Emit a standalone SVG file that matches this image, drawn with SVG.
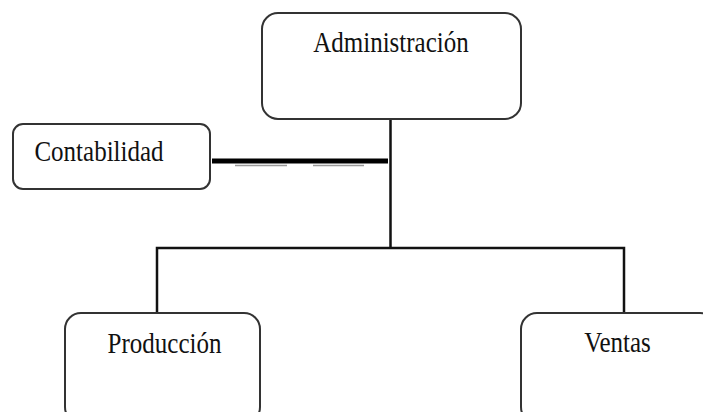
<svg xmlns="http://www.w3.org/2000/svg" width="703" height="412" viewBox="0 0 703 412">
<style>
.box{fill:#fff;stroke:#333;stroke-width:2}
.lbl{font-family:"Liberation Serif","Times New Roman",serif;font-size:25px;fill:#111;text-anchor:middle}
.ln{stroke:#111;stroke-width:2.5;fill:none}
</style>
<rect width="703" height="412" fill="#fff"/>
<g id="connectors">
<path class="ln" d="M390.5 119 V248 M157 313 V248 H624 V313"/>
<line x1="212" y1="161" x2="388" y2="161" stroke="#000" stroke-width="5"/>
<line x1="235" y1="165.5" x2="287" y2="165.5" stroke="#999" stroke-width="1.5"/>
<line x1="313" y1="165.5" x2="364" y2="165.5" stroke="#999" stroke-width="1.5"/>
</g>
<g id="administracion">
<rect class="box" x="262" y="13" width="259" height="106" rx="16"/>
<text class="lbl" transform="translate(391 52) scale(1 1.16)">Administración</text>
</g>
<g id="contabilidad">
<rect class="box" x="13" y="124" width="197" height="65" rx="10"/>
<text class="lbl" transform="translate(99 161) scale(1 1.16)">Contabilidad</text>
</g>
<g id="produccion">
<rect class="box" x="65" y="313" width="195" height="110" rx="16"/>
<text class="lbl" transform="translate(164.5 353) scale(1 1.16)">Producción</text>
</g>
<g id="ventas">
<rect class="box" x="521" y="313" width="195" height="110" rx="16"/>
<text class="lbl" transform="translate(617.5 352) scale(1 1.16)">Ventas</text>
</g>
</svg>
